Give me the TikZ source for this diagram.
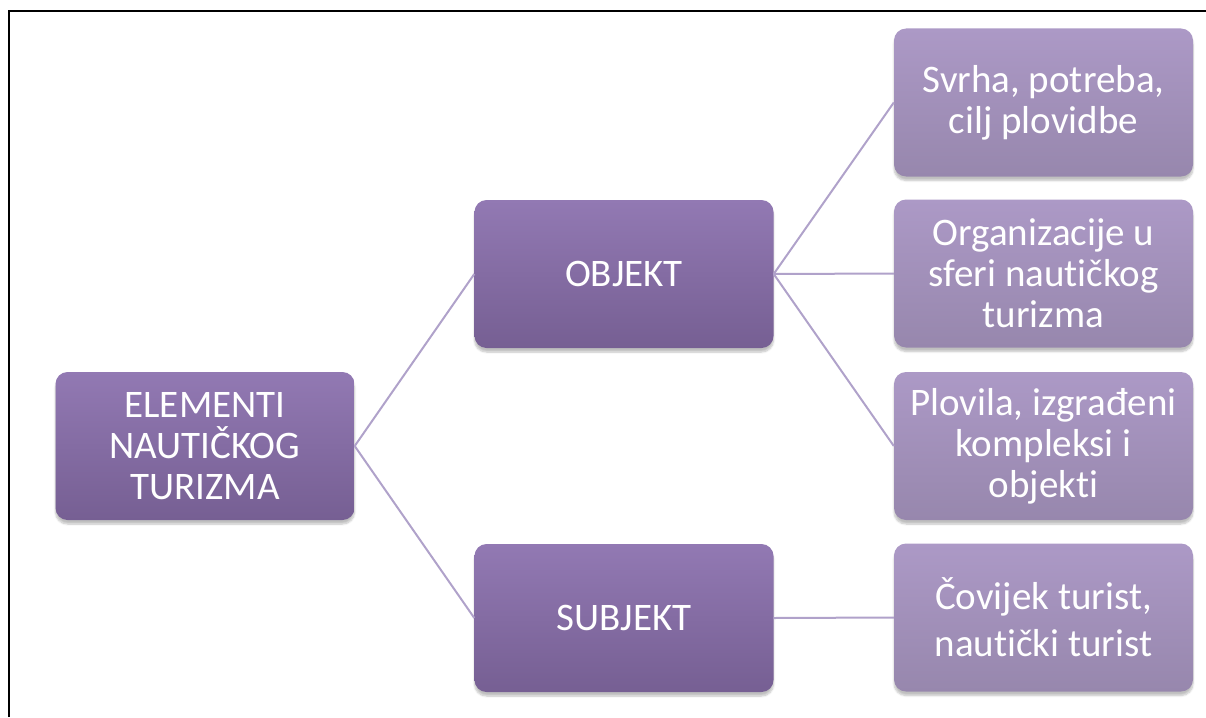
\documentclass[tikz,border=0pt]{standalone}
\usepackage{fontspec}
\setmainfont{Carlito}[Ligatures={NoCommon}]
\usetikzlibrary{shadows.blur}
\definecolor{darktop}{HTML}{9279B3}
\definecolor{darkbot}{HTML}{765F93}
\definecolor{lighttop}{HTML}{AC99C6}
\definecolor{lightbot}{HTML}{9787AD}
\definecolor{linkcol}{HTML}{B0A2CA}
\tikzset{
  basebox/.style={rectangle, rounded corners=12pt, minimum width=299pt, minimum height=148pt,
    inner sep=0pt, align=center, text=white,
    font=\fontsize{39}{41}\selectfont,
    blur shadow={shadow xshift=0pt, shadow yshift=-4pt, shadow blur steps=6, shadow opacity=25}},
  darkbox/.style={basebox, top color=darktop, bottom color=darkbot},
  lightbox/.style={basebox, top color=lighttop, bottom color=lightbot},
  link/.style={draw=linkcol, line width=2pt},
  frameline/.style={draw=black, line width=2.2pt}
}
\begin{document}
\begin{tikzpicture}[x=1pt,y=-1pt]
\useasboundingbox (0,0) rectangle (1206,717);
\coordinate (fa) at (9,717);
\coordinate (fb) at (9,11);
\coordinate (fc) at (1206,11);
\draw[frameline] (fa) -- (fb) -- (fc);

\node[darkbox] (el) at (205,446) {ELEMENTI\\NAUTIČKOG\\TURIZMA};
\node[darkbox] (ob) at (624,274) {OBJEKT};
\node[darkbox] (su) at (624,618) {SUBJEKT};
\node[lightbox] (r1) at (1043.5,102.5) {Svrha, potreba,\\cilj plovidbe};
\node[lightbox] (r2) at (1043.5,273.5) {Organizacije u\\sferi nautičkog\\turizma};
\node[lightbox] (r3) at (1043.5,446) {Plovila, izgrađeni\\kompleksi i\\objekti};
\node[lightbox, font=\fontsize{39}{47}\selectfont] (r4) at (1043.5,617.5) {Čovijek turist,\\nautički turist};

\draw[link] (el.east) -- (ob.west);
\draw[link] (el.east) -- (su.west);
\draw[link] (ob.east) -- (r1.west);
\draw[link] (ob.east) -- (r2.west);
\draw[link] (ob.east) -- (r3.west);
\draw[link] (su.east) -- (r4.west);
\end{tikzpicture}
\end{document}
